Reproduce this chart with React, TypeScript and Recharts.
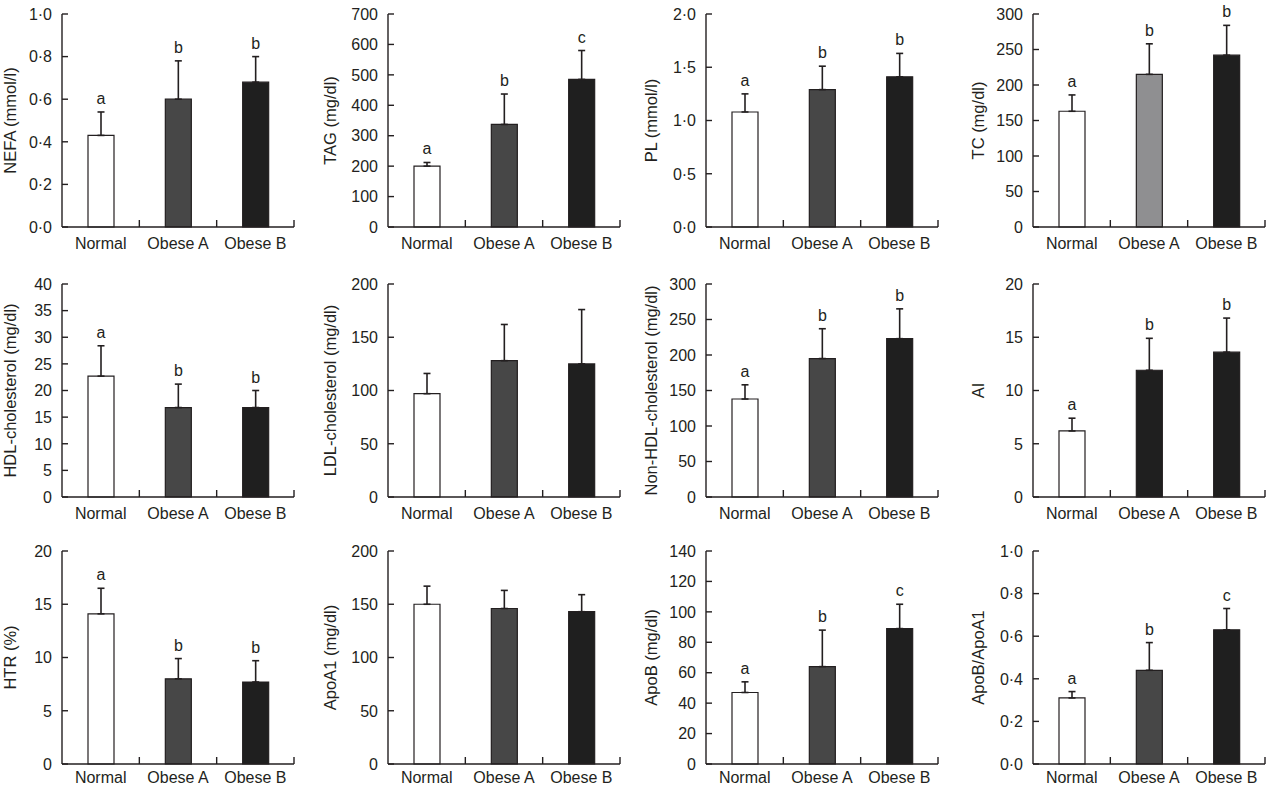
import React from "react";
import { BarChart, Bar, XAxis, YAxis, ErrorBar, LabelList, Cell } from "recharts";

// groups on every x axis
const groups = ["Normal", "Obese A", "Obese B"];

// means and SD (upper error only)
const nefaMean = [0.43, 0.6, 0.68];
const nefaSd = [0.11, 0.18, 0.12];
const tagMean = [200, 337, 485];
const tagSd = [12, 100, 95];
const plMean = [1.08, 1.29, 1.41];
const plSd = [0.17, 0.22, 0.22];
const tcMean = [163, 215, 242];
const tcSd = [23, 43, 42];
const hdlMean = [22.7, 16.8, 16.8];
const hdlSd = [5.7, 4.4, 3.2];
const ldlMean = [97, 128, 125];
const ldlSd = [19, 34, 51];
const nonHdlMean = [138, 195, 223];
const nonHdlSd = [20, 42, 42];
const aiMean = [6.2, 11.9, 13.6];
const aiSd = [1.2, 3.0, 3.2];
const htrMean = [14.1, 8.0, 7.7];
const htrSd = [2.4, 1.9, 2.0];
const apoA1Mean = [150, 146, 143];
const apoA1Sd = [17, 17, 16];
const apoBMean = [47, 64, 89];
const apoBSd = [7, 24, 16];
const ratioMean = [0.31, 0.44, 0.63];
const ratioSd = [0.03, 0.13, 0.1];

// significance letters
const lettersABB = ["a", "b", "b"];
const lettersABC = ["a", "b", "c"];
const noLetters = ["", "", ""];

// y ticks
const ticksUnit = [0, 0.2, 0.4, 0.6, 0.8, 1.0];
const ticksTag = [0, 100, 200, 300, 400, 500, 600, 700];
const ticksPl = [0, 0.5, 1.0, 1.5, 2.0];
const ticks300 = [0, 50, 100, 150, 200, 250, 300];
const ticksHdl = [0, 5, 10, 15, 20, 25, 30, 35, 40];
const ticks200 = [0, 50, 100, 150, 200];
const ticks20 = [0, 5, 10, 15, 20];
const ticksApoB = [0, 20, 40, 60, 80, 100, 120, 140];

// bar shades
const shadeStd = ["#ffffff", "#474747", "#1f1f1f"];
const shadeTc = ["#ffffff", "#8f8f91", "#1f1f1f"];
const shadeAi = ["#ffffff", "#1f1f1f", "#1f1f1f"];

const ink = "#231f20";

const panels = [
  { label: "NEFA (mmol/l)", mean: nefaMean, sd: nefaSd, letters: lettersABB, ticks: ticksUnit, dec: 1, fills: shadeStd },
  { label: "TAG (mg/dl)", mean: tagMean, sd: tagSd, letters: lettersABC, ticks: ticksTag, dec: 0, fills: shadeStd },
  { label: "PL (mmol/l)", mean: plMean, sd: plSd, letters: lettersABB, ticks: ticksPl, dec: 1, fills: shadeStd },
  { label: "TC (mg/dl)", mean: tcMean, sd: tcSd, letters: lettersABB, ticks: ticks300, dec: 0, fills: shadeTc },
  { label: "HDL-cholesterol (mg/dl)", mean: hdlMean, sd: hdlSd, letters: lettersABB, ticks: ticksHdl, dec: 0, fills: shadeStd },
  { label: "LDL-cholesterol (mg/dl)", mean: ldlMean, sd: ldlSd, letters: noLetters, ticks: ticks200, dec: 0, fills: shadeStd },
  { label: "Non-HDL-cholesterol (mg/dl)", mean: nonHdlMean, sd: nonHdlSd, letters: lettersABB, ticks: ticks300, dec: 0, fills: shadeStd },
  { label: "AI", mean: aiMean, sd: aiSd, letters: lettersABB, ticks: ticks20, dec: 0, fills: shadeAi },
  { label: "HTR (%)", mean: htrMean, sd: htrSd, letters: lettersABB, ticks: ticks20, dec: 0, fills: shadeStd },
  { label: "ApoA1 (mg/dl)", mean: apoA1Mean, sd: apoA1Sd, letters: noLetters, ticks: ticks200, dec: 0, fills: shadeStd },
  { label: "ApoB (mg/dl)", mean: apoBMean, sd: apoBSd, letters: lettersABC, ticks: ticksApoB, dec: 0, fills: shadeStd },
  { label: "ApoB/ApoA1", mean: ratioMean, sd: ratioSd, letters: lettersABC, ticks: ticksUnit, dec: 1, fills: shadeStd },
];

// layout
const colAxis = [62, 388, 706, 1033];
const rowTop = [14, 284, 551];
const rowTickGap = [22, 22, 19];
const labelShift = [-52, -58, -55, -55];
const AXIS_W = 76;
const PLOT_W = 232;
const PLOT_H = 213;
const CHART_W = AXIS_W + PLOT_W + 2;
const CHART_H = 10 + PLOT_H + 26;

function YTick(props: any) {
  const { x, y, payload, dec } = props;
  const v = dec ? payload.value.toFixed(dec).replace(".", "\u00b7") : String(payload.value);
  return (
    <g>
      <line x1={x} x2={x + 6} y1={y} y2={y} stroke={ink} strokeWidth={1.4} />
      <text x={x - 10} y={y} dy="0.36em" textAnchor="end" fontSize={16} fill={ink}>
        {v}
      </text>
    </g>
  );
}

function XTick(props: any) {
  const { x, y, payload, gap } = props;
  const half = payload.offset ?? props.width / 6;
  return (
    <g>
      <text x={x} y={y + gap} textAnchor="middle" fontSize={16} fill={ink}>
        {payload.value}
      </text>
      <line x1={x + half} x2={x + half} y1={y} y2={y - 7} stroke={ink} strokeWidth={1.4} />
    </g>
  );
}

function YLabel(props: any) {
  const { viewBox, text, shift } = props;
  const cx = viewBox.x + viewBox.width + shift;
  const cy = viewBox.y + viewBox.height / 2;
  return (
    <text
      x={cx}
      y={cy}
      transform={`rotate(-90, ${cx}, ${cy})`}
      textAnchor="middle"
      dominantBaseline="central"
      fontSize={16.5}
      fill={ink}
    >
      {text}
    </text>
  );
}

function Letter(props: any) {
  const { value, index, rows } = props;
  if (!value) return null;
  const vb = props.viewBox ?? props;
  const { x, y, width, height } = vb;
  const row = rows[index];
  const capY = y - (row.err[1] / row.mean) * height;
  return (
    <text x={x + width / 2} y={capY - 8} textAnchor="middle" fontSize={16} fill={ink}>
      {value}
    </text>
  );
}

function Panel({ p, left, top, shift, gap }: any) {
  const data = groups.map((g, i) => ({
    group: g,
    mean: p.mean[i],
    err: [0, p.sd[i]],
    letter: p.letters[i],
  }));
  const max = p.ticks[p.ticks.length - 1];
  return (
    <div style={{ position: "absolute", left, top }}>
      <BarChart
        width={CHART_W}
        height={CHART_H}
        data={data}
        margin={{ top: 10, right: 2, left: 0, bottom: 0 }}
        barSize={26}
      >
        <XAxis
          dataKey="group"
          height={26}
          interval={0}
          axisLine={{ stroke: ink, strokeWidth: 1.4 }}
          tickLine={false}
          tickSize={0}
          tickMargin={0}
          tick={<XTick gap={gap} />}
        />
        <YAxis
          width={AXIS_W}
          type="number"
          domain={[0, max]}
          ticks={p.ticks}
          interval={0}
          axisLine={{ stroke: ink, strokeWidth: 1.4 }}
          tickLine={false}
          tickSize={0}
          tickMargin={0}
          tick={<YTick dec={p.dec} />}
          label={(lp: any) => <YLabel {...lp} text={p.label} shift={shift} />}
        />
        <Bar dataKey="mean" stroke={ink} strokeWidth={1.2} isAnimationActive={false}>
          {data.map((d, i) => (
            <Cell key={d.group} fill={p.fills[i]} />
          ))}
          <ErrorBar dataKey="err" width={3.5} stroke={ink} strokeWidth={1.6} direction="y" />
          <LabelList dataKey="letter" content={(lp: any) => <Letter {...lp} rows={data} />} />
        </Bar>
      </BarChart>
    </div>
  );
}

export default function App() {
  return (
    <div
      style={{
        position: "absolute",
        left: 0,
        top: 0,
        width: 1268,
        height: 788,
        background: "#fff",
        overflow: "hidden",
        fontFamily: '"Liberation Sans", Arial, sans-serif',
      }}
    >
      {panels.map((p, i) => {
        const c = i % 4;
        const r = Math.floor(i / 4);
        return (
          <Panel
            key={p.label}
            p={p}
            left={colAxis[c] - AXIS_W}
            top={rowTop[r] - 10}
            shift={labelShift[c]}
            gap={rowTickGap[r]}
          />
        );
      })}
    </div>
  );
}
